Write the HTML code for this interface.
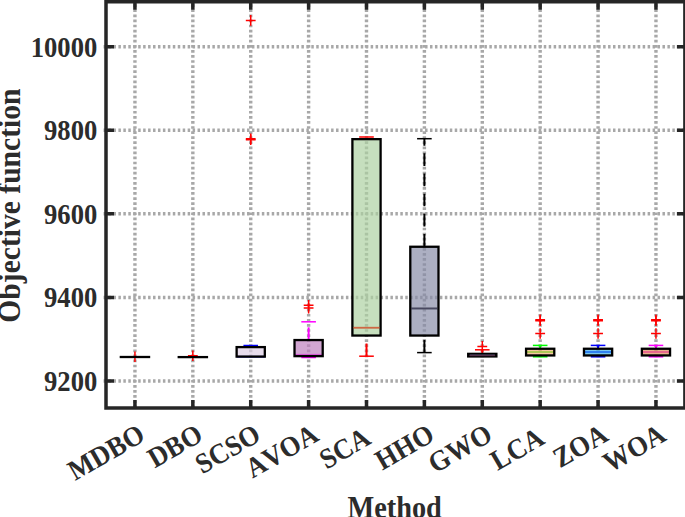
<!DOCTYPE html>
<html><head><meta charset="utf-8"><style>
html,body{margin:0;padding:0;background:#fff;width:685px;height:517px;overflow:hidden}
svg{display:block}
text{font-kerning:none}
</style></head><body>
<svg width="685" height="517" viewBox="0 0 685 517">
<rect width="685" height="517" fill="#fff"/>
<g stroke="#a8a8a8" stroke-width="3.2" fill="none">
<line x1="103.56" y1="46.70" x2="684.90" y2="46.70" stroke-width="3.5" stroke-dasharray="2.5 2.446"/>
<line x1="103.56" y1="130.28" x2="684.90" y2="130.28" stroke-width="3.5" stroke-dasharray="2.5 2.446"/>
<line x1="103.56" y1="213.85" x2="684.90" y2="213.85" stroke-width="3.5" stroke-dasharray="2.5 2.446"/>
<line x1="103.56" y1="297.43" x2="684.90" y2="297.43" stroke-width="3.5" stroke-dasharray="2.5 2.446"/>
<line x1="103.56" y1="381.00" x2="684.90" y2="381.00" stroke-width="3.5" stroke-dasharray="2.5 2.446"/>
<line x1="134.94" y1="-0.75" x2="134.94" y2="408.00" stroke-width="3.4" stroke-dasharray="2.7 2.375"/>
<line x1="192.84" y1="-0.75" x2="192.84" y2="408.00" stroke-width="3.4" stroke-dasharray="2.7 2.375"/>
<line x1="250.72" y1="-0.75" x2="250.72" y2="408.00" stroke-width="3.4" stroke-dasharray="2.7 2.375"/>
<line x1="308.62" y1="-0.75" x2="308.62" y2="408.00" stroke-width="3.4" stroke-dasharray="2.7 2.375"/>
<line x1="366.50" y1="-0.75" x2="366.50" y2="408.00" stroke-width="3.4" stroke-dasharray="2.7 2.375"/>
<line x1="424.39" y1="-0.75" x2="424.39" y2="408.00" stroke-width="3.4" stroke-dasharray="2.7 2.375"/>
<line x1="482.29" y1="-0.75" x2="482.29" y2="408.00" stroke-width="3.4" stroke-dasharray="2.7 2.375"/>
<line x1="540.17" y1="-0.75" x2="540.17" y2="408.00" stroke-width="3.4" stroke-dasharray="2.7 2.375"/>
<line x1="598.07" y1="-0.75" x2="598.07" y2="408.00" stroke-width="3.4" stroke-dasharray="2.7 2.375"/>
<line x1="655.96" y1="-0.75" x2="655.96" y2="408.00" stroke-width="3.4" stroke-dasharray="2.7 2.375"/>
</g>
<path d="M130.04 356.80H139.84M134.94 351.50V362.10" stroke="#ff0000" stroke-width="1.5" fill="none"/>
<rect x="119.69" y="355.85" width="30.50" height="2.30" fill="#000"/>
<path d="M187.94 355.80H197.74M192.84 350.50V361.10" stroke="#ff0000" stroke-width="1.5" fill="none"/>
<rect x="177.59" y="355.95" width="30.50" height="2.30" fill="#000"/>
<line x1="243.42" y1="345.50" x2="258.02" y2="345.50" stroke="#0000ff" stroke-width="1.5"/>
<line x1="236.62" y1="356.60" x2="264.82" y2="356.60" stroke="#0000ff" stroke-width="1.8"/>
<path d="M245.82 20.40H255.62M250.72 15.10V25.70" stroke="#ff0000" stroke-width="1.5" fill="none"/>
<path d="M245.82 138.80H255.62M250.72 133.50V144.10" stroke="#ff0000" stroke-width="1.5" fill="none"/>
<path d="M245.82 139.80H255.62M250.72 134.50V145.10" stroke="#ff0000" stroke-width="1.5" fill="none"/>
<rect x="236.62" y="347.10" width="28.20" height="9.50" fill="rgb(220, 204, 227)" fill-opacity="0.69" stroke="#000" stroke-width="2.3"/>
<line x1="308.62" y1="340.05" x2="308.62" y2="321.80" stroke="#ff00ff" stroke-width="2.0" stroke-dasharray="12.7 7.5"/>
<line x1="301.31" y1="321.80" x2="315.92" y2="321.80" stroke="#ff00ff" stroke-width="1.5"/>
<line x1="301.31" y1="357.50" x2="315.92" y2="357.50" stroke="#ff00ff" stroke-width="1.5"/>
<line x1="294.51" y1="354.80" x2="322.72" y2="354.80" stroke="#ff00ff" stroke-width="1.8"/>
<path d="M303.72 305.20H313.51M308.62 299.90V310.50" stroke="#ff0000" stroke-width="1.5" fill="none"/>
<path d="M303.72 308.10H313.51M308.62 302.80V313.40" stroke="#ff0000" stroke-width="1.5" fill="none"/>
<rect x="294.51" y="340.05" width="28.20" height="16.10" fill="rgb(190, 126, 190)" fill-opacity="0.69" stroke="#000" stroke-width="2.3"/>
<line x1="359.20" y1="137.00" x2="373.81" y2="137.00" stroke="#ff0000" stroke-width="1.5"/>
<line x1="366.50" y1="356.20" x2="366.50" y2="335.55" stroke="#ff0000" stroke-width="2.0" stroke-dasharray="12.7 7.5"/>
<line x1="359.20" y1="356.20" x2="373.81" y2="356.20" stroke="#ff0000" stroke-width="1.5"/>
<line x1="352.40" y1="327.70" x2="380.61" y2="327.70" stroke="#ff0000" stroke-width="1.8"/>
<rect x="352.40" y="139.15" width="28.20" height="196.40" fill="rgb(172, 209, 161)" fill-opacity="0.69" stroke="#000" stroke-width="2.3"/>
<line x1="353.50" y1="327.7" x2="379.50" y2="327.7" stroke="rgb(206,104,68)" stroke-width="1.5"/>
<line x1="424.39" y1="246.75" x2="424.39" y2="138.70" stroke="#000000" stroke-width="2.0" stroke-dasharray="12.7 7.5"/>
<line x1="417.09" y1="138.70" x2="431.69" y2="138.70" stroke="#000000" stroke-width="1.5"/>
<line x1="424.39" y1="352.60" x2="424.39" y2="335.55" stroke="#000000" stroke-width="2.0" stroke-dasharray="12.7 7.5"/>
<line x1="417.09" y1="352.60" x2="431.69" y2="352.60" stroke="#000000" stroke-width="1.5"/>
<line x1="410.29" y1="308.50" x2="438.50" y2="308.50" stroke="#000000" stroke-width="1.8"/>
<rect x="410.29" y="246.75" width="28.20" height="88.80" fill="rgb(135, 139, 167)" fill-opacity="0.69" stroke="#000" stroke-width="2.3"/>
<line x1="411.39" y1="308.45" x2="437.39" y2="308.45" stroke="rgb(72,72,96)" stroke-width="1.5"/>
<line x1="482.29" y1="353.85" x2="482.29" y2="349.80" stroke="#ff0000" stroke-width="2.0" stroke-dasharray="12.7 7.5"/>
<line x1="474.99" y1="349.80" x2="489.59" y2="349.80" stroke="#ff0000" stroke-width="1.5"/>
<line x1="468.19" y1="355.60" x2="496.39" y2="355.60" stroke="#ff0000" stroke-width="1.8"/>
<path d="M477.39 346.40H487.19M482.29 341.10V351.70" stroke="#ff0000" stroke-width="1.5" fill="none"/>
<rect x="468.19" y="353.85" width="28.20" height="2.60" fill="rgb(103, 88, 175)" fill-opacity="0.69" stroke="#000" stroke-width="2.3"/>
<line x1="469.69" y1="354.9" x2="494.89" y2="354.9" stroke="#564a6c" stroke-width="0.9"/>
<line x1="469.69" y1="355.7" x2="494.89" y2="355.7" stroke="#5e3552" stroke-width="0.8"/>
<line x1="540.17" y1="348.75" x2="540.17" y2="345.40" stroke="#00ff00" stroke-width="2.0" stroke-dasharray="12.7 7.5"/>
<line x1="532.88" y1="345.40" x2="547.47" y2="345.40" stroke="#00ff00" stroke-width="1.5"/>
<line x1="532.88" y1="356.80" x2="547.47" y2="356.80" stroke="#00ff00" stroke-width="1.5"/>
<line x1="526.07" y1="352.00" x2="554.27" y2="352.00" stroke="#00ff00" stroke-width="1.8"/>
<path d="M535.27 319.80H545.07M540.17 314.50V325.10" stroke="#ff0000" stroke-width="1.5" fill="none"/>
<path d="M535.27 320.80H545.07M540.17 315.50V326.10" stroke="#ff0000" stroke-width="1.5" fill="none"/>
<path d="M535.27 333.50H545.07M540.17 328.20V338.80" stroke="#ff0000" stroke-width="1.5" fill="none"/>
<rect x="526.07" y="348.75" width="28.20" height="6.70" fill="rgb(241, 175, 117)" fill-opacity="0.69" stroke="#000" stroke-width="2.3"/>
<line x1="598.07" y1="348.75" x2="598.07" y2="345.40" stroke="#0000ff" stroke-width="2.0" stroke-dasharray="12.7 7.5"/>
<line x1="590.77" y1="345.40" x2="605.37" y2="345.40" stroke="#0000ff" stroke-width="1.5"/>
<line x1="590.77" y1="356.80" x2="605.37" y2="356.80" stroke="#0000ff" stroke-width="1.5"/>
<line x1="583.97" y1="352.00" x2="612.17" y2="352.00" stroke="#0000ff" stroke-width="1.8"/>
<path d="M593.17 319.80H602.97M598.07 314.50V325.10" stroke="#ff0000" stroke-width="1.5" fill="none"/>
<path d="M593.17 320.80H602.97M598.07 315.50V326.10" stroke="#ff0000" stroke-width="1.5" fill="none"/>
<path d="M593.17 333.50H602.97M598.07 328.20V338.80" stroke="#ff0000" stroke-width="1.5" fill="none"/>
<rect x="583.97" y="348.75" width="28.20" height="6.70" fill="rgb(59, 175, 233)" fill-opacity="0.69" stroke="#000" stroke-width="2.3"/>
<line x1="655.96" y1="348.75" x2="655.96" y2="345.40" stroke="#ff00ff" stroke-width="2.0" stroke-dasharray="12.7 7.5"/>
<line x1="648.66" y1="345.40" x2="663.25" y2="345.40" stroke="#ff00ff" stroke-width="1.5"/>
<line x1="648.66" y1="356.80" x2="663.25" y2="356.80" stroke="#ff00ff" stroke-width="1.5"/>
<line x1="641.86" y1="352.00" x2="670.06" y2="352.00" stroke="#ff00ff" stroke-width="1.8"/>
<path d="M651.06 319.80H660.86M655.96 314.50V325.10" stroke="#ff0000" stroke-width="1.5" fill="none"/>
<path d="M651.06 320.80H660.86M655.96 315.50V326.10" stroke="#ff0000" stroke-width="1.5" fill="none"/>
<path d="M651.06 333.50H660.86M655.96 328.20V338.80" stroke="#ff0000" stroke-width="1.5" fill="none"/>
<rect x="641.86" y="348.75" width="28.20" height="6.70" fill="rgb(222, 139, 88)" fill-opacity="0.69" stroke="#000" stroke-width="2.3"/>
<g stroke="#262626" stroke-width="3.5" fill="none">
<rect x="106.0" y="1.75" width="578.9" height="406.25"/>
<path d="M134.94 408.00V400.00M134.94 1.75V9.75M192.84 408.00V400.00M192.84 1.75V9.75M250.72 408.00V400.00M250.72 1.75V9.75M308.62 408.00V400.00M308.62 1.75V9.75M366.50 408.00V400.00M366.50 1.75V9.75M424.39 408.00V400.00M424.39 1.75V9.75M482.29 408.00V400.00M482.29 1.75V9.75M540.17 408.00V400.00M540.17 1.75V9.75M598.07 408.00V400.00M598.07 1.75V9.75M655.96 408.00V400.00M655.96 1.75V9.75M106.00 46.70H114.00M684.90 46.70H676.90M106.00 130.28H114.00M684.90 130.28H676.90M106.00 213.85H114.00M684.90 213.85H676.90M106.00 297.43H114.00M684.90 297.43H676.90M106.00 381.00H114.00M684.90 381.00H676.90"/>
</g>
<g font-family="Liberation Serif, serif" font-weight="bold" fill="#2c2c2c" font-size="28.5">
<text transform="translate(97.3 56.50) scale(0.935 1)" text-anchor="end">10000</text>
<text transform="translate(97.3 140.08) scale(0.935 1)" text-anchor="end">9800</text>
<text transform="translate(97.3 223.65) scale(0.935 1)" text-anchor="end">9600</text>
<text transform="translate(97.3 307.23) scale(0.935 1)" text-anchor="end">9400</text>
<text transform="translate(97.3 390.80) scale(0.935 1)" text-anchor="end">9200</text>
<text transform="translate(134.25 418.00) rotate(-30) scale(0.935 1)" x="0" y="0" dy="25" text-anchor="end">MDBO</text>
<text transform="translate(192.14 418.00) rotate(-30) scale(0.935 1)" x="0" y="0" dy="25" text-anchor="end">DBO</text>
<text transform="translate(250.03 418.00) rotate(-30) scale(0.935 1)" x="0" y="0" dy="25" text-anchor="end">SCSO</text>
<text transform="translate(307.92 418.00) rotate(-30) scale(0.935 1)" x="0" y="0" dy="25" text-anchor="end">AVOA</text>
<text transform="translate(365.81 418.00) rotate(-30) scale(0.935 1)" x="0" y="0" dy="25" text-anchor="end">SCA&#160;</text>
<text transform="translate(423.69 418.00) rotate(-30) scale(0.935 1)" x="0" y="0" dy="25" text-anchor="end">HHO</text>
<text transform="translate(481.59 418.00) rotate(-30) scale(0.935 1)" x="0" y="0" dy="25" text-anchor="end">GWO</text>
<text transform="translate(539.47 418.00) rotate(-30) scale(0.935 1)" x="0" y="0" dy="25" text-anchor="end">LCA&#160;</text>
<text transform="translate(597.37 418.00) rotate(-30) scale(0.935 1)" x="0" y="0" dy="25" text-anchor="end">ZOA</text>
<text transform="translate(655.25 418.00) rotate(-30) scale(0.935 1)" x="0" y="0" dy="25" text-anchor="end">WOA</text>
</g>
<text transform="translate(394.6 517.9) scale(0.92 1)" text-anchor="middle" font-family="Liberation Serif, serif" font-weight="bold" font-size="30.8" fill="#2c2c2c">Method</text>
<text transform="translate(19.6 205.6) rotate(-90) scale(0.961 1)" x="0" y="0" text-anchor="middle" font-family="Liberation Serif, serif" font-weight="bold" font-size="30.8" fill="#2c2c2c">Objective function</text>
</svg>
</body></html>
